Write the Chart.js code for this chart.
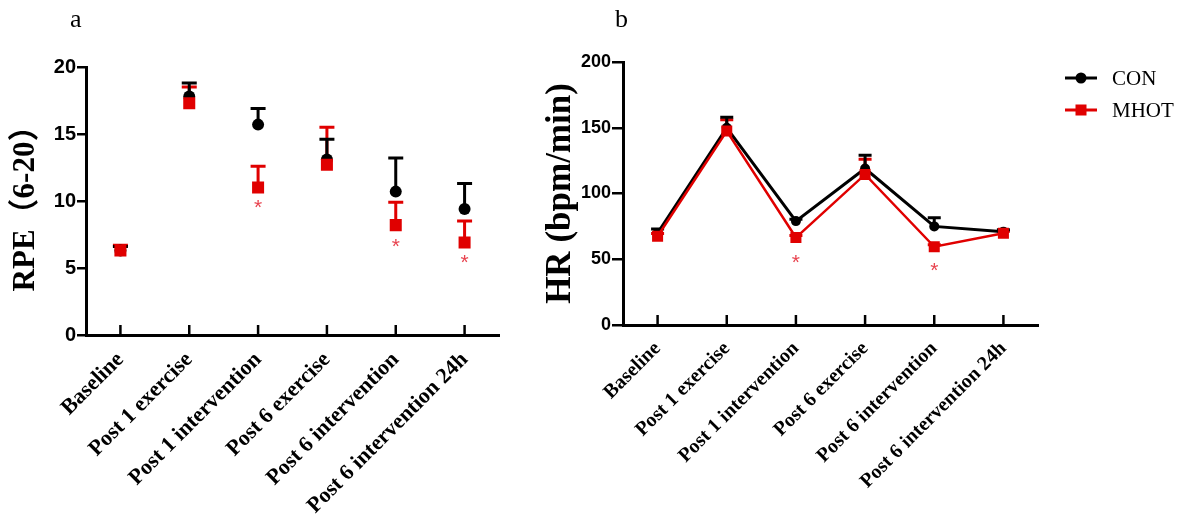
<!DOCTYPE html>
<html>
<head>
<meta charset="utf-8">
<script src="https://cdn.jsdelivr.net/npm/chart.js@4.4.1/dist/chart.umd.min.js"></script>
<style>
  body { margin: 0; background: #fff; }
  #wrap { position: relative; width: 1184px; height: 516px; }
  canvas { position: absolute; top: 0; }
</style>
</head>
<body>
<div id="wrap">
  <canvas id="rpe" width="540" height="516" style="left:0"></canvas>
  <canvas id="hr" width="644" height="516" style="left:540px"></canvas>
</div>
<script>
// categories shared by both panels
const categories = ['Baseline', 'Post 1 exercise', 'Post 1 intervention',
  'Post 6 exercise', 'Post 6 intervention', 'Post 6 intervention 24h'];

// panel a: RPE (mean, upper error)
const rpeCon = [6.3, 17.8, 15.7, 13.1, 10.7, 9.4];
const rpeConErr = [0.3, 1.0, 1.2, 1.5, 2.5, 1.9];
const rpeMhot = [6.3, 17.3, 11.0, 12.7, 8.2, 6.9];
const rpeMhotErr = [0.4, 1.2, 1.6, 2.8, 1.7, 1.6];
const rpeStars = [null, null, 9.9, null, 7.0, 5.8];
const rpeTicks = [0, 5, 10, 15, 20];

// panel b: HR (mean, upper error)
const hrCon = [70, 150, 79, 119, 75, 71];
const hrConErr = [3, 8, 1.5, 10, 6.5, 1.5];
const hrMhot = [67.5, 147.5, 66.5, 114.5, 59.5, 69.7];
const hrMhotErr = [2, 8.5, 1.5, 11.5, 1.5, 1.5];
const hrStars = [null, null, 52, null, 46, null];
const hrTicks = [0, 50, 100, 150, 200];

const BLACK = '#000000';
const RED = '#e00000';
const STAR = '#e8434f';
const SERIF = '"Liberation Serif", "Times New Roman", "Noto Sans CJK SC", serif';
const SANS = '"Liberation Sans", Arial, sans-serif';

// error bars (upward only), drawn under the markers
const errorBars = {
  id: 'errorBars',
  beforeDatasetsDraw(chart, args, opts) {
    const ctx = chart.ctx;
    const y = chart.scales.y;
    const sets = chart.data.datasets.map((d, i) => i).sort((a, b) =>
      chart.data.datasets[a].order - chart.data.datasets[b].order);
    ctx.save();
    sets.forEach(i => {
      const ds = chart.data.datasets[i];
      const meta = chart.getDatasetMeta(i);
      ctx.strokeStyle = ds.borderColor;
      ctx.lineWidth = opts.width;
      meta.data.forEach((pt, j) => {
        const top = y.getPixelForValue(ds.data[j] + ds.errors[j]);
        ctx.beginPath();
        ctx.moveTo(pt.x, pt.y);
        ctx.lineTo(pt.x, top);
        ctx.moveTo(pt.x - opts.cap / 2, top);
        ctx.lineTo(pt.x + opts.cap / 2, top);
        ctx.stroke();
      });
    });
    ctx.restore();
  },
  afterDraw(chart, args, opts) {
    const ctx = chart.ctx;
    const x = chart.scales.x;
    const y = chart.scales.y;
    ctx.save();
    // inward x ticks
    ctx.strokeStyle = BLACK;
    ctx.lineWidth = 2.5;
    const base = chart.chartArea.bottom;
    categories.forEach((c, i) => {
      const px = x.getPixelForTick(i);
      ctx.beginPath();
      ctx.moveTo(px, base + 1);
      ctx.lineTo(px, base - 10);
      ctx.stroke();
    });
    // significance marks
    ctx.fillStyle = STAR;
    ctx.font = '21px ' + SANS;
    ctx.textAlign = 'center';
    ctx.textBaseline = 'alphabetic';
    opts.stars.forEach((v, i) => {
      if (v === null) return;
      ctx.fillText('*', x.getPixelForTick(i), y.getPixelForValue(v) + 12);
    });
    // panel letter
    ctx.fillStyle = BLACK;
    ctx.font = '26px ' + SERIF;
    ctx.textAlign = 'left';
    ctx.fillText(opts.letter, opts.letterX, 27);
    // legend
    if (opts.legend) {
      ctx.textBaseline = 'middle';
      ctx.font = '21px ' + SERIF;
      chart.data.datasets.forEach((ds, i) => {
        const ly = 78 + i * 32;
        const lx = opts.legendX;
        ctx.strokeStyle = ds.borderColor;
        ctx.lineWidth = 3;
        ctx.beginPath();
        ctx.moveTo(lx, ly);
        ctx.lineTo(lx + 32, ly);
        ctx.stroke();
        ctx.fillStyle = ds.backgroundColor;
        if (ds.pointStyle === 'circle') {
          ctx.beginPath();
          ctx.arc(lx + 16, ly, 5.5, 0, Math.PI * 2);
          ctx.fill();
        } else {
          ctx.fillRect(lx + 16 - 5.5, ly - 5.5, 11, 11);
        }
        ctx.fillStyle = BLACK;
        ctx.fillText(ds.label, lx + 47, ly + 1);
      });
    }
    ctx.restore();
  }
};

function makeChart(id, cfg) {
  return new Chart(document.getElementById(id), {
    type: 'line',
    data: {
      labels: categories,
      datasets: [{
        label: 'CON',
        data: cfg.con,
        errors: cfg.conErr,
        order: 1,
        showLine: cfg.lines,
        borderColor: BLACK,
        backgroundColor: BLACK,
        borderWidth: 3,
        pointStyle: 'circle',
        pointRadius: cfg.circle,
        pointBorderWidth: 0,
        tension: 0
      }, {
        label: 'MHOT',
        data: cfg.mhot,
        errors: cfg.mhotErr,
        order: 0,
        showLine: cfg.lines,
        borderColor: RED,
        backgroundColor: RED,
        borderWidth: 2.5,
        pointStyle: 'rect',
        pointRadius: cfg.square,
        pointBorderWidth: 0,
        tension: 0
      }]
    },
    options: {
      responsive: false,
      animation: false,
      events: [],
      layout: { padding: { top: cfg.top, right: cfg.right, left: 0, bottom: 0 } },
      plugins: {
        legend: { display: false },
        tooltip: { enabled: false },
        errorBars: cfg.plugin
      },
      scales: {
        x: {
          offset: true,
          grid: { display: false },
          border: { display: true, color: BLACK, width: 3 },
          ticks: {
            autoSkip: false, minRotation: 45, maxRotation: 45, padding: 4,
            color: BLACK,
            font: { family: SERIF, weight: 'bold', size: cfg.xFont }
          },
          afterFit(s) { s.height = cfg.xHeight; }
        },
        y: {
          min: cfg.ticks[0],
          max: cfg.ticks[cfg.ticks.length - 1],
          afterBuildTicks(s) { s.ticks = cfg.ticks.map(v => ({ value: v })); },
          ticks: {
            padding: 1, color: BLACK,
            font: { family: SANS, weight: 'bold', size: cfg.yFont }
          },
          grid: { drawOnChartArea: false, drawTicks: true, tickLength: cfg.tickLen, color: BLACK, lineWidth: 2.5 },
          border: { color: BLACK, width: 3 },
          title: {
            display: true, text: cfg.title, color: BLACK,
            font: { family: SERIF, weight: 'bold', size: cfg.titleFont },
            padding: { top: cfg.titlePad, bottom: 0 }
          },
          afterFit(s) { s.width = cfg.yWidth; }
        }
      }
    },
    plugins: [errorBars]
  });
}

makeChart('rpe', {
  con: rpeCon, conErr: rpeConErr, mhot: rpeMhot, mhotErr: rpeMhotErr,
  ticks: rpeTicks, lines: false, circle: 6, square: 8.5,
  top: 67, right: 41, xHeight: 181, yWidth: 86, tickLen: 9,
  xFont: 22, yFont: 20, title: 'RPE（6-20）', titleFont: 31, titlePad: 7,
  plugin: { width: 3, cap: 15, stars: rpeStars, letter: 'a', letterX: 70 }
});

makeChart('hr', {
  con: hrCon, conErr: hrConErr, mhot: hrMhot, mhotErr: hrMhotErr,
  ticks: hrTicks, lines: true, circle: 5, square: 7.8,
  top: 62, right: 146, xHeight: 191, yWidth: 83, tickLen: 11,
  xFont: 20, yFont: 18, title: 'HR (bpm/min)', titleFont: 35, titlePad: 0,
  plugin: { width: 3, cap: 13, stars: hrStars, letter: 'b', letterX: 75,
            legend: true, legendX: 1065 - 540 }
});
</script>
</body>
</html>
